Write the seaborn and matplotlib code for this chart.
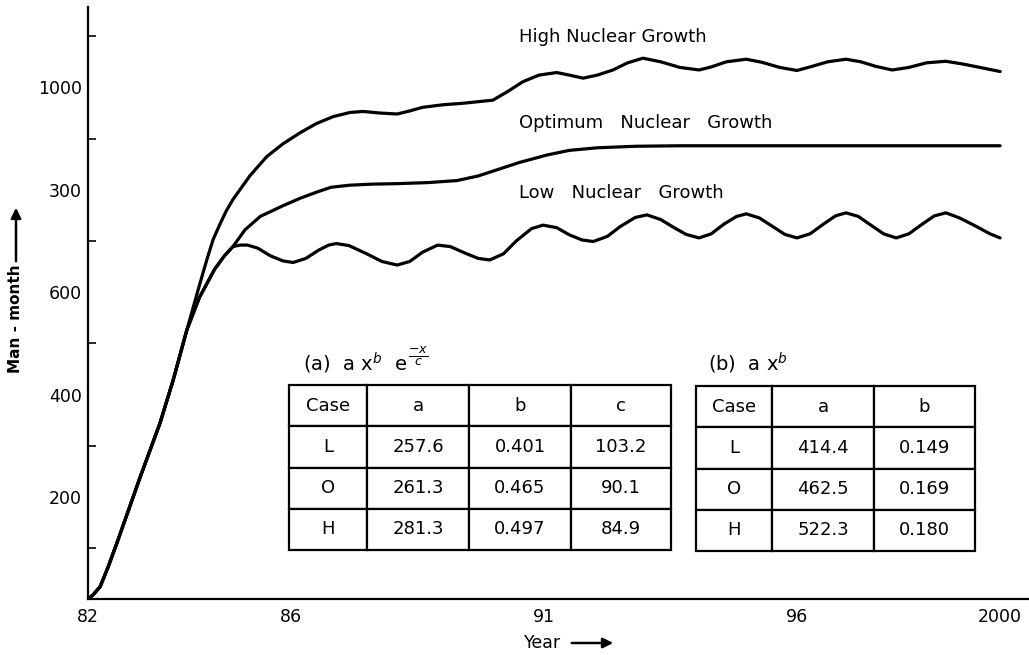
import matplotlib
matplotlib.use("Agg")
import numpy as np
import pandas as pd
import matplotlib.pyplot as plt
import seaborn as sns

# ---------------- data ----------------
# shared initial rise of all three cases
common_years = [1982.0, 1982.12, 1982.24, 1982.4, 1982.57, 1983.03, 1983.42, 1983.68, 1983.95]
common_vals = [0, 11, 25, 64, 110, 239, 344, 428, 526]

# part shared by Low and Optimum after High branches off
lo_shared_years = [1984.2, 1984.5, 1984.7, 1984.86]
lo_shared_vals = [590, 645, 672, 689]

high_years = [1984.2, 1984.35, 1984.47, 1984.6, 1984.73, 1984.86, 1985.2, 1985.53,
              1985.85, 1986.18, 1986.5, 1986.84, 1987.17, 1987.43, 1987.75, 1988.1,
              1988.35, 1988.6, 1989.0, 1989.4, 1989.99, 1990.3, 1990.58, 1990.9,
              1991.25, 1991.5, 1991.77, 1992.05, 1992.36, 1992.65, 1992.95, 1993.3,
              1993.68, 1994.06, 1994.3, 1994.6, 1994.99, 1995.3, 1995.65, 1995.99,
              1996.25, 1996.6, 1996.96, 1997.25, 1997.55, 1997.87, 1998.2, 1998.55,
              1998.93, 1999.3, 1999.65, 2000.0]
high_vals = [614, 665, 703, 732, 759, 781, 828, 865,
             890, 911, 929, 943, 951, 953, 950, 948,
             954, 961, 966, 969, 975, 993, 1011, 1024,
             1029, 1024, 1018, 1024, 1034, 1048, 1057, 1050,
             1039, 1034, 1040, 1050, 1055, 1049, 1039, 1033,
             1040, 1050, 1055, 1050, 1041, 1034, 1039, 1048,
             1051, 1045, 1038, 1031]

opt_years = [1985.1, 1985.4, 1985.85, 1986.2, 1986.5, 1986.8, 1987.17, 1987.6,
             1988.1, 1988.7, 1989.28, 1989.7, 1990.07, 1990.5, 1991.06, 1991.5,
             1992.05, 1992.8, 1993.68, 2000.0]
opt_vals = [722, 748, 769, 784, 795, 805, 809, 811,
            812, 814, 818, 827, 839, 853, 868, 877,
            882, 885, 886, 886]

low_years = [1985.0, 1985.15, 1985.35, 1985.6, 1985.85, 1986.05, 1986.3, 1986.55,
             1986.75, 1986.9, 1987.15, 1987.5, 1987.8, 1988.1, 1988.35, 1988.6,
             1988.9, 1989.15, 1989.45, 1989.7, 1989.93, 1990.2, 1990.45, 1990.75,
             1990.98, 1991.25, 1991.5, 1991.75, 1991.97, 1992.25, 1992.5, 1992.8,
             1993.03, 1993.3, 1993.55, 1993.8, 1994.06, 1994.3, 1994.55, 1994.8,
             1994.99, 1995.25, 1995.5, 1995.75, 1995.99, 1996.25, 1996.5, 1996.75,
             1996.96, 1997.2, 1997.45, 1997.7, 1997.95, 1998.2, 1998.45, 1998.7,
             1998.93, 1999.2, 1999.5, 1999.8, 2000.0]
low_vals = [692, 692, 686, 671, 661, 658, 666, 682,
            692, 695, 691, 675, 660, 653, 660, 678,
            692, 689, 676, 666, 663, 675, 700, 724,
            731, 726, 712, 702, 699, 709, 728, 746,
            751, 742, 727, 713, 706, 714, 733, 748,
            753, 745, 729, 713, 706, 714, 732, 749,
            755, 748, 731, 714, 706, 714, 732, 749,
            755, 745, 730, 714, 706]

x_ticks = [1982, 1986, 1991, 1996, 2000]
x_tick_labels = ["82", "86", "91", "96", "2000"]
y_ticks = [200, 400, 600, 800, 1000]
y_tick_labels = ["200", "400", "600", "300", "1000"]
y_minor_ticks = [100, 300, 500, 700, 900, 1100]

curve_labels = ["High Nuclear Growth", "Optimum   Nuclear   Growth", "Low   Nuclear   Growth"]

table_a_cols = ["Case", "a", "b", "c"]
table_a_rows = [["L", "257.6", "0.401", "103.2"],
                ["O", "261.3", "0.465", "90.1"],
                ["H", "281.3", "0.497", "84.9"]]
table_b_cols = ["Case", "a", "b"]
table_b_rows = [["L", "414.4", "0.149"],
                ["O", "462.5", "0.169"],
                ["H", "522.3", "0.180"]]

# ---------------- build long table ----------------
frames = []
for name, yrs, vals in [
    ("High", common_years + high_years, common_vals + high_vals),
    ("Optimum", common_years + lo_shared_years + opt_years,
     common_vals + lo_shared_vals + opt_vals),
    ("Low", common_years + lo_shared_years + low_years,
     common_vals + lo_shared_vals + low_vals),
]:
    frames.append(pd.DataFrame({"year": yrs, "value": vals, "case": name}))
df = pd.concat(frames, ignore_index=True)

# ---------------- plot ----------------
sns.set_style("white")
plt.rcParams["font.family"] = ["DejaVu Sans"]
plt.rcParams["text.color"] = "black"
plt.rcParams["axes.labelcolor"] = "black"

W, H = 1029, 655
fig = plt.figure(figsize=(W / 100, H / 100), dpi=100)
ax_left, ax_right, ax_top, ax_bottom = 88, 1029, 7, 599.4
ax = fig.add_axes([ax_left / W, (H - ax_bottom) / H,
                   (ax_right - ax_left) / W, (ax_bottom - ax_top) / H])

sns.lineplot(data=df, x="year", y="value", units="case", estimator=None,
             sort=False, color="black", linewidth=2.3, ax=ax)

ax.set_xlim(1982, 2000.57)
ax.set_ylim(0, 1157)
ax.set_xlabel("")
ax.set_ylabel("")

for s in ["top", "right"]:
    ax.spines[s].set_visible(False)
for s in ["left", "bottom"]:
    ax.spines[s].set_linewidth(1.6)
    ax.spines[s].set_color("black")

ax.set_xticks(x_ticks)
ax.set_xticklabels(x_tick_labels, fontsize=12.5)
ax.set_yticks(y_ticks)
ax.set_yticklabels(y_tick_labels, fontsize=12.5)
ax.set_yticks(y_minor_ticks, minor=True)
ax.tick_params(axis="x", which="major", direction="in", length=9.5, width=1.4,
               pad=6.5, colors="black")
ax.tick_params(axis="y", which="major", direction="in", length=10.8, width=1.4,
               pad=4.3, colors="black")
ax.tick_params(axis="y", which="minor", direction="in", length=5.8, width=1.4,
               left=True)
ax.grid(False)

# curve labels
label_x = 1990.51
for txt, yv in zip(curve_labels, [1098, 930, 794]):
    ax.text(label_x, yv, txt, fontsize=13, ha="left", va="center", color="black")

def ax_frac_x(px):
    return (px - ax_left) / (ax_right - ax_left)

def ax_frac_y(py):
    return (ax_bottom - py) / (ax_bottom - ax_top)

# table titles
title_a = ax.text(ax_frac_x(303), ax_frac_y(363), r"(a)  a x$^{b}$  e",
                  transform=ax.transAxes, fontsize=14, ha="left", va="center")
ax.text(ax_frac_x(708), ax_frac_y(363), r"(b)  a x$^{b}$",
        transform=ax.transAxes, fontsize=14, ha="left", va="center")
fig.canvas.draw()
bb = title_a.get_window_extent()
fig.text((bb.x1 + 1) / W, (H - 356) / H, r"$\frac{-x}{c}$", fontsize=13,
         ha="left", va="center")

# tables
def make_table(cols, rows, x0, x1, y0, y1, widths):
    tot = sum(widths)
    tab = ax.table(cellText=rows, colLabels=cols, cellLoc="center",
                   colWidths=[w / tot for w in widths],
                   bbox=[ax_frac_x(x0), ax_frac_y(y1),
                         ax_frac_x(x1) - ax_frac_x(x0),
                         ax_frac_y(y0) - ax_frac_y(y1)])
    tab.auto_set_font_size(False)
    tab.set_fontsize(13)
    for cell in tab.get_celld().values():
        cell.set_linewidth(1.6)
        cell.set_edgecolor("black")
        cell.set_facecolor("white")
        cell.get_text().set_color("black")
    return tab

make_table(table_a_cols, table_a_rows, 289, 671, 385, 550, [78, 102, 102, 100])
make_table(table_b_cols, table_b_rows, 696, 975, 386, 551, [76, 102, 101])

# axis titles with arrows
fig.text(16 / W, (H - 318.5) / H, "Man - month", rotation=90, fontsize=11,
         fontweight="bold", ha="center", va="center")
fig.add_artist(matplotlib.patches.FancyArrowPatch(
    (16 / W, (H - 264) / H), (16 / W, (H - 205) / H),
    transform=fig.transFigure, arrowstyle="-|>", mutation_scale=15,
    linewidth=1.8, color="black"))

fig.text(524 / W, (H - 643) / H, "Year", fontsize=12.5, ha="left", va="center")
fig.add_artist(matplotlib.patches.FancyArrowPatch(
    (569 / W, (H - 643) / H), (616 / W, (H - 643) / H),
    transform=fig.transFigure, arrowstyle="-|>", mutation_scale=15,
    linewidth=1.8, color="black"))

fig.savefig("out.png", dpi=100)
